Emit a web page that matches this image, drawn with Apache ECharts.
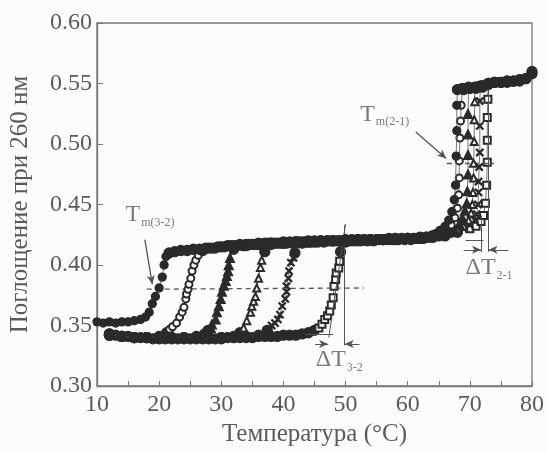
<!DOCTYPE html>
<html><head><meta charset="utf-8">
<script src="https://cdn.jsdelivr.net/npm/echarts@6/dist/echarts.min.js"></script>
<style>html,body{margin:0;padding:0;background:#fcfcfc}#c{width:547px;height:452px}</style>
</head><body><div id="c"></div>
<script>
// Temperature (°C), absorbance at 260 nm
const s1 = [[10,0.353],[11,0.352],[12,0.353],[13,0.352],[14,0.353],[15,0.353],[16,0.354],[17,0.355],[17.8,0.357],[18.4,0.361],[18.9,0.368],[19.4,0.374],[20.0,0.381],[20.5,0.390],[20.8,0.400],[21.1,0.407],[21.6,0.410],[22.5,0.411],[23.5,0.412],[24.5,0.412],[25.5,0.413],[26.5,0.413],[27.5,0.414],[28.5,0.414],[29.5,0.415],[30.5,0.415],[31.5,0.416],[32.5,0.416],[33.5,0.416],[34.5,0.417],[35.5,0.417],[36.5,0.417],[37.5,0.418],[38.5,0.418],[39.5,0.418],[40.5,0.418],[41.5,0.418],[42.5,0.419],[43.5,0.419],[44.5,0.419],[45.5,0.419],[46.5,0.419],[47.5,0.420],[48.5,0.420],[49.5,0.420],[50.5,0.420],[51.5,0.420],[52.5,0.420],[53.5,0.420],[54.5,0.420],[55.5,0.421],[56.5,0.421],[57.5,0.421],[58.5,0.421],[59.5,0.421],[60.5,0.421],[61.5,0.422],[62.5,0.422],[63.5,0.423],[64.5,0.425],[65.3,0.428],[66.0,0.432],[66.6,0.437],[67.1,0.444],[67.5,0.454],[67.7,0.466],[67.8,0.490],[67.9,0.511],[67.9,0.532],[68.0,0.545],[69,0.545],[70,0.546],[71,0.546],[72,0.547],[73,0.550],[74,0.551],[75,0.551],[76,0.551],[77,0.552],[78,0.552],[79,0.554],[80,0.560]];
const s2 = [[12,0.343],[14,0.341],[16,0.340],[18,0.340],[20,0.341],[21.2,0.344],[21.7,0.347],[22.15,0.349],[22.8,0.352],[23.3,0.357],[23.7,0.361],[24.0,0.365],[24.3,0.372],[24.4,0.376],[24.65,0.380],[24.8,0.384],[25.1,0.389],[25.3,0.395],[25.6,0.400],[25.9,0.404],[26.3,0.408],[27,0.412],[28,0.414],[29,0.414],[30,0.415],[31,0.416],[32,0.416],[33,0.417],[34,0.417],[35,0.417],[36,0.418],[37,0.418],[38,0.418],[39,0.418],[40,0.419],[41,0.419],[42,0.419],[43,0.419],[44,0.420],[45,0.420],[46,0.420],[47,0.420],[48,0.420],[49,0.420],[50,0.421],[51,0.421],[52,0.421],[53,0.421],[54,0.421],[55,0.421],[56,0.421],[57,0.422],[58,0.422],[59,0.422],[60,0.422],[61,0.422],[62,0.423],[63,0.423],[64,0.424],[65,0.425],[66,0.428],[67,0.433],[67.6,0.439],[68.0,0.447],[68.2,0.458],[68.3,0.472],[68.3,0.486],[68.4,0.505],[68.5,0.519],[68.6,0.532],[68.8,0.546],[70,0.546],[72,0.548],[74,0.551],[76,0.552],[78,0.553]];
const s3 = [[12,0.342],[14,0.341],[16,0.340],[18,0.340],[20,0.340],[22,0.340],[24,0.340],[26,0.341],[27.3,0.343],[27.9,0.346],[28.3,0.348],[28.5,0.351],[29.1,0.355],[29.3,0.361],[29.6,0.366],[29.9,0.372],[30.1,0.378],[30.4,0.383],[30.7,0.387],[30.9,0.391],[31.1,0.395],[31.2,0.400],[31.4,0.406],[32,0.413],[34,0.416],[36,0.417],[38,0.418],[40,0.418],[42,0.419],[44,0.419],[46,0.420],[48,0.420],[50,0.420],[52,0.421],[54,0.421],[56,0.421],[58,0.421],[60,0.422],[62,0.422],[64,0.424],[66,0.426],[67.5,0.430],[68.3,0.434],[68.8,0.439],[69.2,0.445],[69.5,0.451],[69.6,0.461],[69.7,0.475],[69.7,0.491],[69.7,0.508],[69.7,0.525],[69.8,0.547],[71,0.547],[73,0.550],[75,0.551],[77,0.552]];
const s4 = [[12,0.342],[14,0.341],[16,0.340],[18,0.340],[20,0.340],[22,0.340],[24,0.340],[26,0.340],[28,0.340],[30,0.340],[32,0.341],[33.0,0.344],[33.6,0.348],[34.1,0.354],[34.7,0.361],[34.9,0.366],[35.2,0.370],[35.5,0.374],[35.7,0.381],[36.0,0.389],[36.3,0.398],[36.5,0.404],[37.0,0.411],[38,0.417],[40,0.418],[42,0.419],[44,0.419],[46,0.420],[48,0.420],[50,0.420],[52,0.421],[54,0.421],[56,0.421],[58,0.422],[60,0.422],[62,0.422],[64,0.423],[66,0.425],[68,0.429],[69,0.432],[69.8,0.437],[70.2,0.443],[70.4,0.450],[70.5,0.460],[70.6,0.472],[70.6,0.484],[70.7,0.502],[70.7,0.520],[70.8,0.535],[70.8,0.547],[72,0.548],[74,0.551],[76,0.552],[78,0.553]];
const s5 = [[12,0.342],[14,0.341],[16,0.340],[18,0.340],[20,0.340],[22,0.340],[24,0.340],[26,0.340],[28,0.340],[30,0.340],[32,0.340],[34,0.341],[36,0.342],[37.4,0.346],[38.1,0.350],[38.65,0.352],[39.1,0.355],[39.45,0.359],[39.8,0.366],[40.3,0.372],[40.5,0.378],[40.5,0.3825],[40.8,0.389],[40.9,0.395],[41.2,0.402],[41.6,0.406],[41.85,0.410],[43,0.418],[45,0.419],[47,0.420],[49,0.420],[51,0.420],[53,0.421],[55,0.421],[57,0.421],[59,0.422],[61,0.422],[63,0.423],[65,0.424],[67,0.427],[69,0.430],[70,0.433],[70.8,0.437],[71.1,0.442],[71.3,0.450],[71.4,0.460],[71.4,0.469],[71.5,0.481],[71.6,0.493],[71.6,0.515],[71.6,0.5355],[71.7,0.548],[73,0.550],[75,0.551],[77,0.552],[79,0.554]];
const s6 = [[12,0.343],[13,0.342],[14,0.341],[15,0.341],[16,0.340],[17,0.340],[18,0.340],[19,0.339],[20,0.339],[21,0.339],[22,0.339],[23,0.339],[24,0.339],[25,0.339],[26,0.339],[27,0.339],[28,0.339],[29,0.339],[30,0.339],[31,0.340],[32,0.340],[33,0.340],[34,0.340],[35,0.340],[36,0.341],[37,0.341],[38,0.341],[39,0.341],[40,0.342],[41,0.342],[42,0.342],[43,0.343],[44,0.344],[45,0.346],[45.7,0.348],[46.2,0.351],[46.65,0.355],[47.1,0.358],[47.45,0.362],[47.7,0.367],[48.0,0.373],[48.15,0.3825],[48.4,0.388],[48.5,0.3934],[48.9,0.3975],[49.05,0.403],[49.2,0.411],[50,0.419],[52,0.420],[54,0.421],[56,0.421],[58,0.421],[60,0.422],[62,0.422],[64,0.423],[66,0.424],[68,0.427],[70,0.430],[71,0.432],[71.8,0.436],[72.2,0.441],[72.5,0.451],[72.7,0.466],[72.8,0.485],[72.8,0.503],[72.8,0.522],[72.9,0.537],[72.9,0.549],[74,0.551],[76,0.552],[78,0.553],[80,0.558]];

const xTicks = [10,20,30,40,50,60,70,80];
const yTicks = [0.30,0.35,0.40,0.45,0.50,0.55,0.60];

// annotation geometry in data units
const dashLow = [[18.0,0.380],[52.9,0.381]];
const dashHigh = [[66.3,0.484],[73.9,0.484]];
const arrowLow = [[17.7,0.421],[18.9,0.384]];
const arrowHigh = [[61.3,0.510],[66.2,0.488]];
const tangent32 = [[47.3,0.340],[50.0,0.434]];
const vline32 = [[49.75,0.433],[49.75,0.3336]];
const hline32 = [[43.45,0.3424],[48.0,0.3424]];
const arr32L = [[45.1,0.3347],[47.2,0.3347]];
const arr32R = [[52.25,0.3347],[49.85,0.3347]];
const vline21a = [[71.85,0.441],[71.85,0.411]];
const vline21b = [[72.9,0.548],[72.9,0.411]];
const hline21 = [[69.3,0.4207],[72.2,0.4207]];
const arr21L = [[69.0,0.4126],[71.8,0.4126]];
const arr21R = [[76.2,0.4126],[73.0,0.4126]];

const labelTm32 = [14.6,0.4415];
const labelTm21 = [52.35,0.5246];
const labelDT32 = [45.2,0.322];
const labelDT21 = [69.3,0.398];

const INK = '#2a2a2a';
const TXT = '#5a5a5a';
const FONT = '"Liberation Serif","DejaVu Serif",serif';
const crossPath = 'path://M0,1L1,0L5,4L9,0L10,1L6,5L10,9L9,10L5,6L1,10L0,9L4,5Z';

const markers = [
  {d:s1, symbol:'circle', size:8},
  {d:s2, symbol:'emptyCircle', size:7},
  {d:s3, symbol:'triangle', size:9},
  {d:s4, symbol:'emptyTriangle', size:7},
  {d:s5, symbol:crossPath, size:7},
  {d:s6, symbol:'emptyRect', size:7}
];
function inBand(y){ return y < 0.347 || (y > 0.408 && y < 0.429) || y > 0.543; }

const dataSeries = markers.map((m,i)=>({
  type:'line', silent:true, animation:false, showAllSymbol:true,
  z: 3 + (5-i),
  lineStyle:{color:'#555', width:0.8},
  itemStyle:{color:INK, borderColor:INK, borderWidth:1.3},
  symbol:m.symbol, symbolSize:m.size,
  data:m.d.map(p=> inBand(p[1]) ? {value:p, symbol:'circle', symbolSize:10, itemStyle:{color:INK, borderColor:INK}} : {value:p})
}));

function seg(a,b,opt){
  return [{coord:a, symbol:(opt&&opt.s0)||'none'},{coord:b, symbol:(opt&&opt.s1)||'none', lineStyle:{color:'#555', width:(opt&&opt.w)||1, type:(opt&&opt.t)||'solid'}}];
}
const annSeries = {
  type:'line', data:[], silent:true, animation:false,
  markLine:{
    silent:true, animation:false, symbolSize:[6,9], label:{show:false},
    lineStyle:{color:'#555', width:1},
    emphasis:{disabled:true},
    data:[
      seg(dashLow[0],dashLow[1],{t:[5,4],w:1.3}),
      seg(dashHigh[0],dashHigh[1],{t:[5,4],w:1.3}),
      seg(arrowLow[0],arrowLow[1],{s1:'arrow',w:1.3}),
      seg(arrowHigh[0],arrowHigh[1],{s1:'arrow',w:1.3}),
      seg(tangent32[0],tangent32[1]),
      seg(vline32[0],vline32[1]),
      seg(hline32[0],hline32[1]),
      seg(arr32L[0],arr32L[1],{s1:'arrow'}),
      seg(arr32R[0],arr32R[1],{s1:'arrow'}),
      seg(vline21a[0],vline21a[1]),
      seg(vline21b[0],vline21b[1]),
      seg(hline21[0],hline21[1]),
      seg(arr21L[0],arr21L[1],{s1:'arrow'}),
      seg(arr21R[0],arr21R[1],{s1:'arrow'})
    ]
  }
};

const rich = {
  a:{fontFamily:FONT, fontSize:24, color:TXT, lineHeight:26},
  b:{fontFamily:FONT, fontSize:12, color:TXT, padding:[16,0,0,1], lineHeight:26}
};
const textSeries = {
  type:'scatter', silent:true, animation:false, symbolSize:0, z:20,
  data:[
    {value:labelTm32, name:'{a|T}{b|m(3-2)}'},
    {value:labelTm21, name:'{a|T}{b|m(2-1)}'},
    {value:labelDT32, name:'{a|ΔT}{b|3-2}'},
    {value:labelDT21, name:'{a|ΔT}{b|2-1}'}
  ],
  label:{show:true, position:[0,0], align:'left', verticalAlign:'middle', formatter:p=>p.name, rich:rich}
};

const chart = echarts.init(document.getElementById('c'), null, {renderer:'canvas'});
chart.setOption({
  backgroundColor:'#fcfcfc',
  animation:false,
  grid:{left:94, right:15, top:23, bottom:63, show:true, borderColor:'#777', borderWidth:1.3, backgroundColor:'transparent'},
  xAxis:{
    type:'value', min:xTicks[0], max:xTicks[xTicks.length-1], interval:10,
    name:'Температура (°C)', nameLocation:'middle', nameGap:36,
    nameTextStyle:{fontFamily:FONT, fontSize:25, color:TXT},
    axisLine:{lineStyle:{color:'#777', width:1.3}},
    axisTick:{inside:true, length:5, lineStyle:{color:'#777'}},
    minorTick:{show:true, splitNumber:2, length:5, lineStyle:{color:'#777'}},
    splitLine:{show:false},
    axisLabel:{fontFamily:FONT, fontSize:24, color:TXT, margin:7}
  },
  yAxis:{
    type:'value', min:yTicks[0], max:yTicks[yTicks.length-1], interval:0.05,
    name:'Поглощение при 260 нм', nameLocation:'middle', nameGap:64,
    nameTextStyle:{fontFamily:FONT, fontSize:25, color:TXT},
    axisLine:{lineStyle:{color:'#777', width:1.3}},
    axisTick:{inside:true, length:6, lineStyle:{color:'#777'}},
    splitLine:{show:false},
    axisLabel:{fontFamily:FONT, fontSize:24, color:TXT, margin:5, formatter:v=>v.toFixed(2)}
  },
  series:[...dataSeries, annSeries, textSeries]
});
</script></body></html>
